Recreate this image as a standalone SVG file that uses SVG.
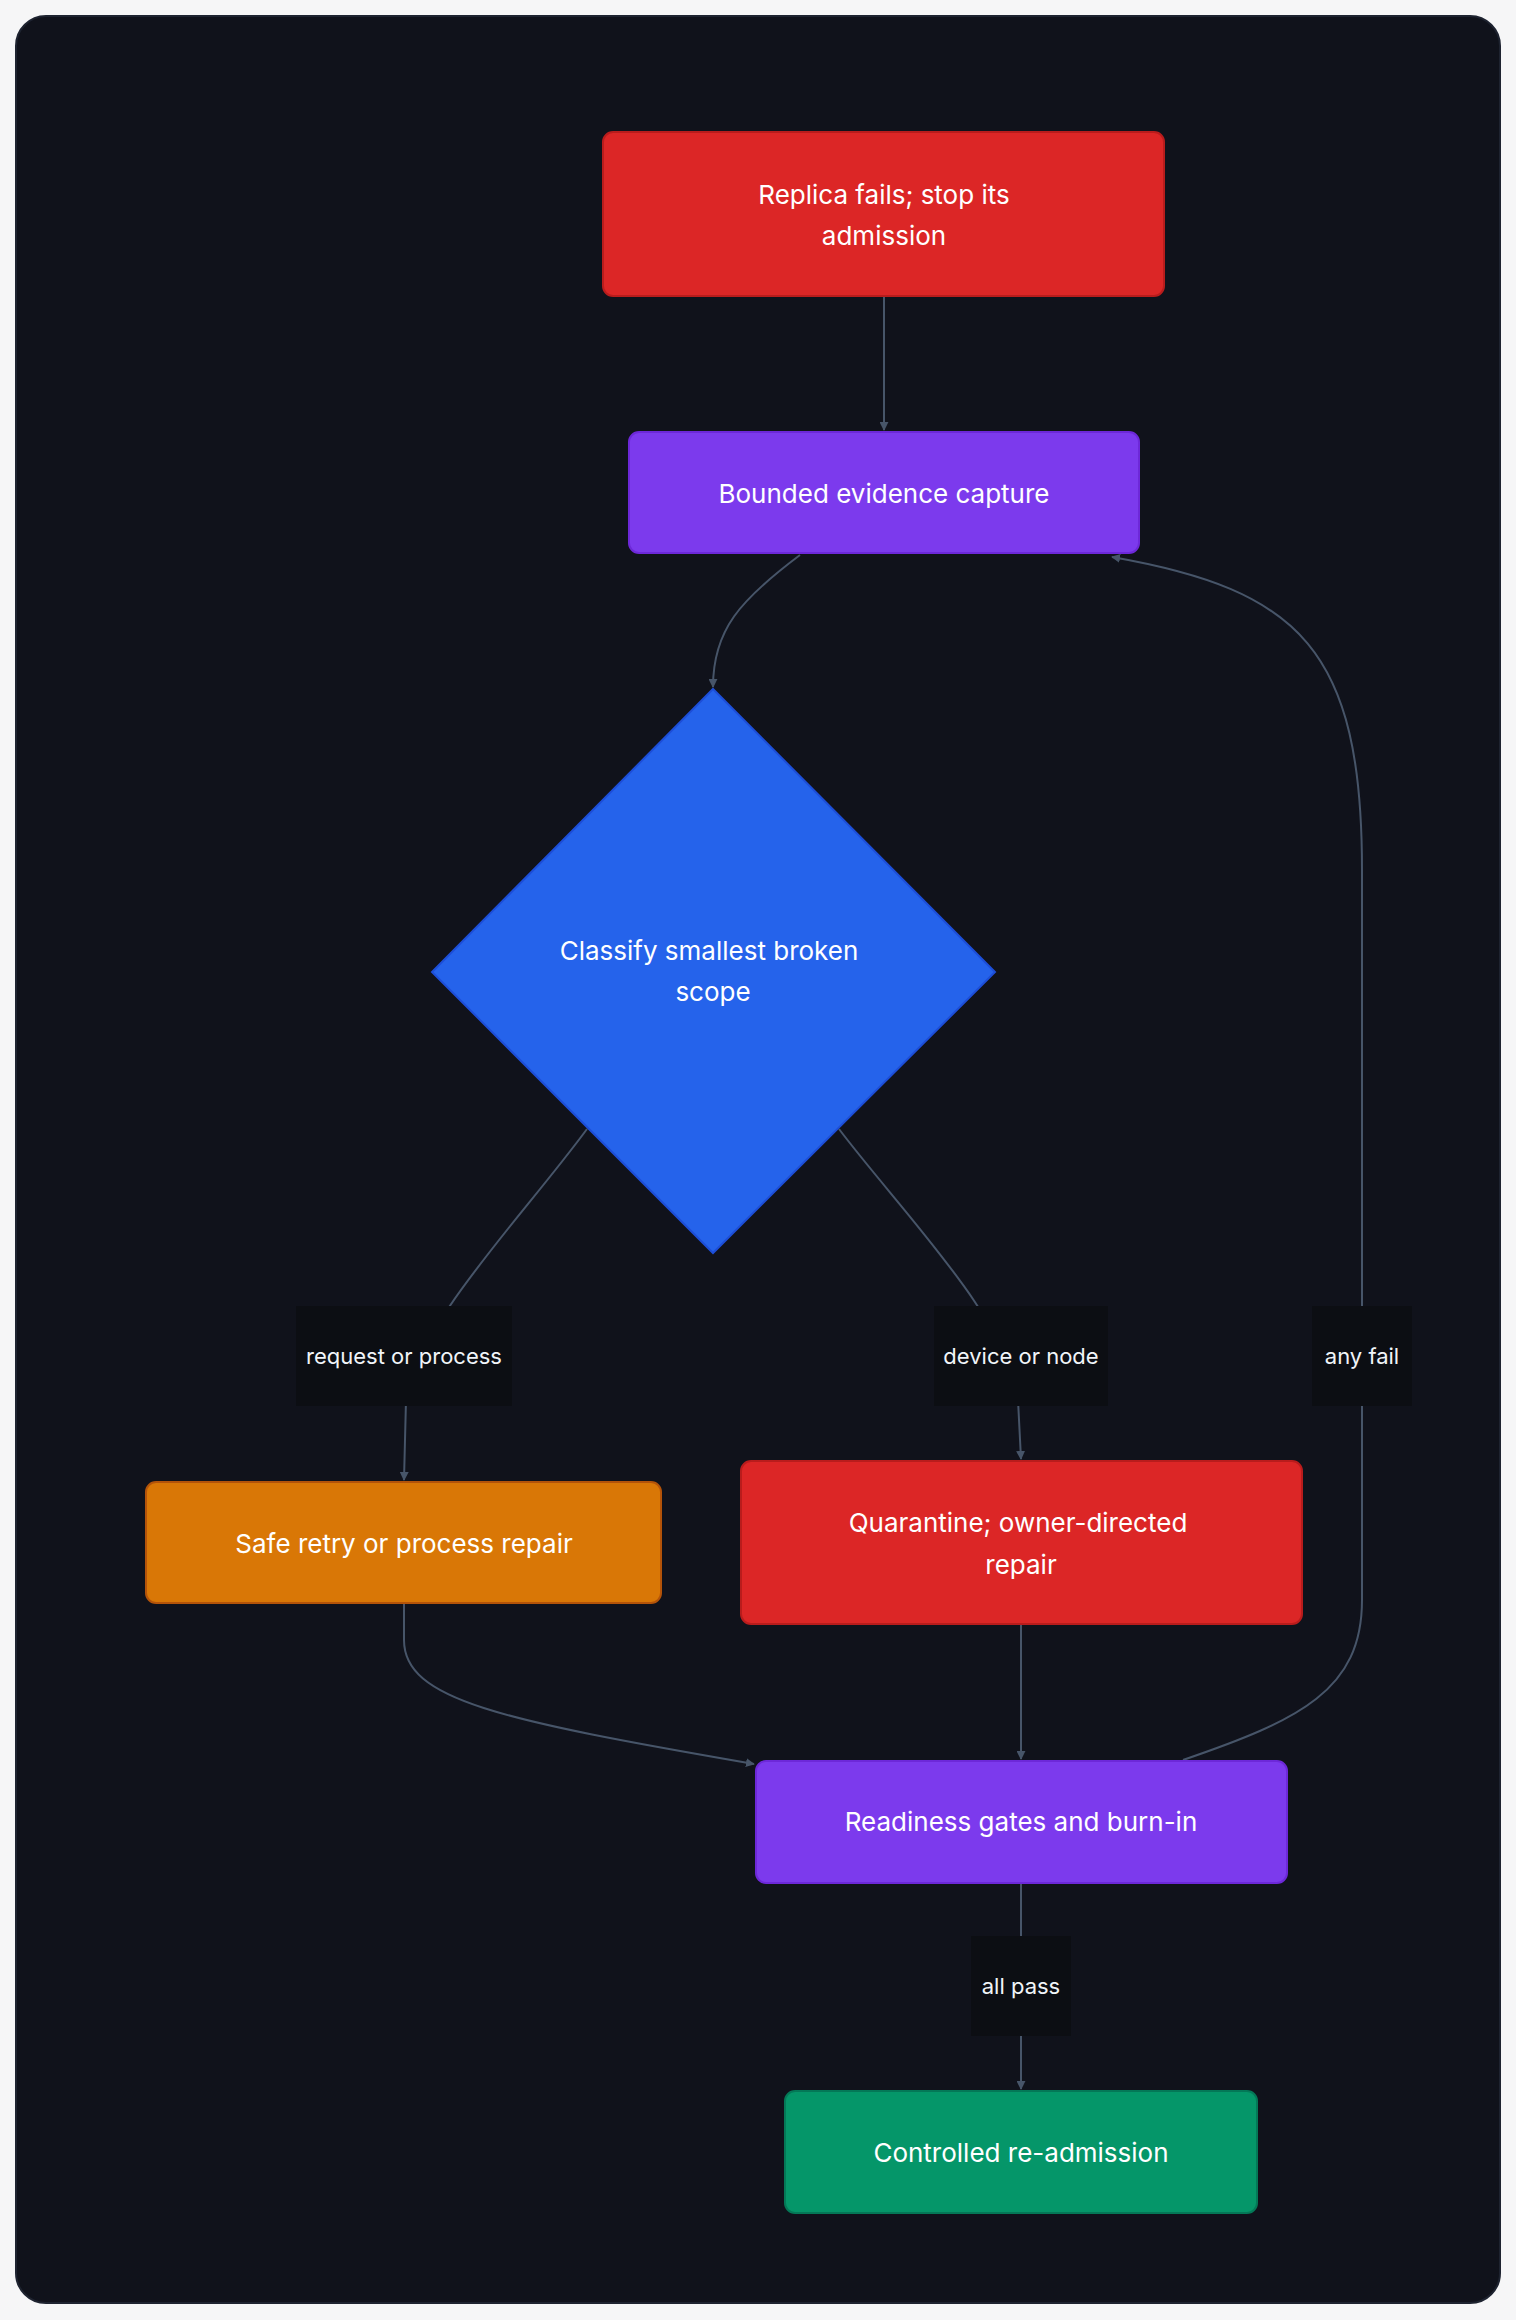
<svg xmlns="http://www.w3.org/2000/svg" width="1516" height="2320" viewBox="0 0 1516 2320">
<defs>
<marker id="arr" viewBox="0 0 10 10" refX="9" refY="5" markerWidth="9" markerHeight="9" markerUnits="userSpaceOnUse" orient="auto"><path d="M0,0 L10,5 L0,10 z" fill="#475569"/></marker>
<style>
.n{font-family:Inter,"Noto Sans",sans-serif;font-size:26px;fill:#ffffff;text-anchor:middle}
.l{font-family:Inter,"Noto Sans",sans-serif;font-size:22px;fill:#f1f5f9;text-anchor:middle}
.e{fill:none;stroke:#475569;stroke-width:2}
.lb{fill:#0c0e13}
</style>
</defs>
<rect width="1516" height="2320" fill="#f6f6f7"/>
<rect x="16" y="16" width="1484" height="2287" rx="30" fill="#10121b" stroke="#1e2330" stroke-width="2"/>
<g id="edges">
<path class="e" d="M884,296 L884,430" marker-end="url(#arr)"/>
<path class="e" d="M800,555 C740,600 713,630 713,687" marker-end="url(#arr)"/>
<path class="e" d="M587,1129 C520,1220 420,1320 406,1400 L404,1480" marker-end="url(#arr)"/>
<path class="e" d="M839,1129 C900,1210 1010,1320 1018,1400 L1021,1459" marker-end="url(#arr)"/>
<path class="e" d="M404,1603 L404,1640 C404,1700 500,1720 754,1764" marker-end="url(#arr)"/>
<path class="e" d="M1021,1624 L1021,1759" marker-end="url(#arr)"/>
<path class="e" d="M1183,1760 C1300,1720 1362,1690 1362,1600 L1362,870 C1362,650 1300,590 1112,557" marker-end="url(#arr)"/>
<path class="e" d="M1021,1883 L1021,2089" marker-end="url(#arr)"/>
<rect class="lb" x="296" y="1306" width="216" height="100"/>
<text class="l" x="404" y="1364">request or process</text>
<rect class="lb" x="934" y="1306" width="174" height="100"/>
<text class="l" x="1021" y="1364">device or node</text>
<rect class="lb" x="1312" y="1306" width="100" height="100"/>
<text class="l" x="1362" y="1364">any fail</text>
<rect class="lb" x="971" y="1936" width="100" height="100"/>
<text class="l" x="1021" y="1994">all pass</text>
</g>
<g id="n1"><rect x="603" y="132" width="561" height="164" rx="10" fill="#dc2626" stroke="#b91c1c" stroke-width="2"/>
<text class="n" x="884" y="204">Replica fails; stop its</text><text class="n" x="884" y="245">admission</text></g>
<g id="n2"><rect x="629" y="432" width="510" height="121" rx="10" fill="#7c3aed" stroke="#6d28d9" stroke-width="2"/>
<text class="n" x="884" y="503">Bounded evidence capture</text></g>
<g id="n3"><polygon points="713,689 995,972 713,1253 432,972" fill="#2563eb" stroke="#1d4ed8" stroke-width="2"/>
<text class="n" x="709" y="960">Classify smallest broken</text><text class="n" x="713" y="1001">scope</text></g>
<g id="n4"><rect x="146" y="1482" width="515" height="121" rx="10" fill="#d97706" stroke="#b45309" stroke-width="2"/>
<text class="n" x="404" y="1553">Safe retry or process repair</text></g>
<g id="n5"><rect x="741" y="1461" width="561" height="163" rx="10" fill="#dc2626" stroke="#b91c1c" stroke-width="2"/>
<text class="n" x="1018" y="1532">Quarantine; owner-directed</text><text class="n" x="1021" y="1574">repair</text></g>
<g id="n6"><rect x="756" y="1761" width="531" height="122" rx="10" fill="#7c3aed" stroke="#6d28d9" stroke-width="2"/>
<text class="n" x="1021" y="1831">Readiness gates and burn-in</text></g>
<g id="n7"><rect x="785" y="2091" width="472" height="122" rx="10" fill="#059669" stroke="#047857" stroke-width="2"/>
<text class="n" x="1021" y="2162">Controlled re-admission</text></g>
</svg>
